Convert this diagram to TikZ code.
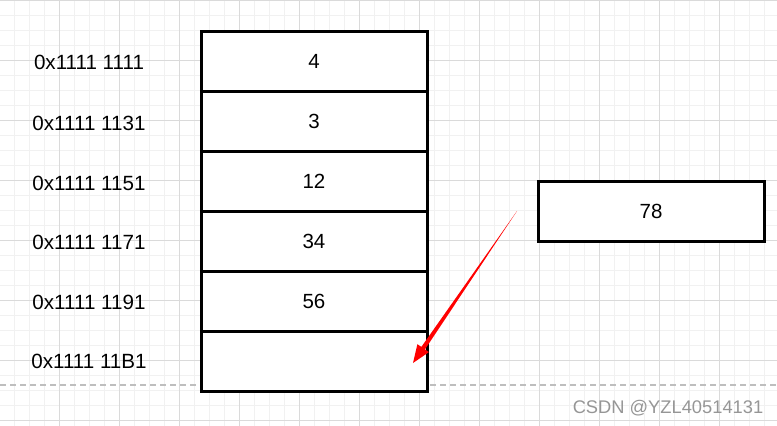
\documentclass[tikz,border=0pt]{standalone}
\usepackage{fontspec}
\setmainfont{Liberation Sans}
\usetikzlibrary{calc,arrows.meta}
\definecolor{gridmajor}{RGB}{218,218,218}
\definecolor{gridminor}{RGB}{241,241,241}
\definecolor{dashgray}{RGB}{190,190,190}
\definecolor{wmgray}{RGB}{150,150,150}
\definecolor{arrowred}{RGB}{255,0,0}
\begin{document}
\begin{tikzpicture}[x=1pt,y=-1pt,
  cell/.style={draw=black,fill=white,line width=3pt,minimum width=226pt,minimum height=60pt,inner sep=0pt,font=\fontsize{20.5}{24}\selectfont,text=black},
  addr/.style={font=\fontsize{20.6}{24}\selectfont,text=black,inner sep=0pt},
  wmark/.style={font=\fontsize{18.3}{21}\selectfont,text=wmgray,inner sep=0pt}]
\useasboundingbox (0,0) rectangle (777,426);
\fill[white] (0,0) rectangle (777,426);
% grid
\foreach \i in {0,15,...,780} \draw[gridminor,line width=1pt] (\i-0.5,0) -- (\i-0.5,426);
\foreach \j in {0,15,...,420} \draw[gridminor,line width=1pt] (0,\j) -- (777,\j);
\foreach \i in {0,60,...,780} \draw[gridmajor,line width=1pt] (\i-0.5,0) -- (\i-0.5,426);
\foreach \j in {0,60,...,420} \draw[gridmajor,line width=1pt] (0,\j) -- (777,\j);
% dashed line
\draw[dashgray,line width=1.3pt,dash pattern=on 6pt off 4pt] (0,385) -- (777,385);
% memory cells
\node[cell] (m1) at (314,61) {4};
\node[cell] (m2) at (314,121) {3};
\node[cell] (m3) at (314,181) {12};
\node[cell] (m4) at (314,241) {34};
\node[cell] (m5) at (314,301) {56};
\node[cell] (m6) at (314,361) {};
\node[cell] (nv) at (651,211) {78};
% addresses
\node[addr] (a1) at (89,62) {0x1111 1111};
\node[addr] (a2) at (89,123) {0x1111 1131};
\node[addr] (a3) at (89,183) {0x1111 1151};
\node[addr] (a4) at (89,242) {0x1111 1171};
\node[addr] (a5) at (89,302) {0x1111 1191};
\node[addr] (a6) at (89,361) {0x1111 11B1};
% arrow
\coordinate (s) at (517,211);
\coordinate (t) at (413,363);
\coordinate (b) at ($(t)!18pt!(s)$);
\fill[arrowred] (s) -- ($(b)!2.2pt!90:(s)$) -- ($(b)!7pt!90:(s)$) -- (t)
  -- ($(b)!7pt!-90:(s)$) -- ($(b)!2.2pt!-90:(s)$) -- cycle;
% watermark
\node[wmark] (wm) at (668,408) {CSDN @YZL40514131};
\end{tikzpicture}
\end{document}
